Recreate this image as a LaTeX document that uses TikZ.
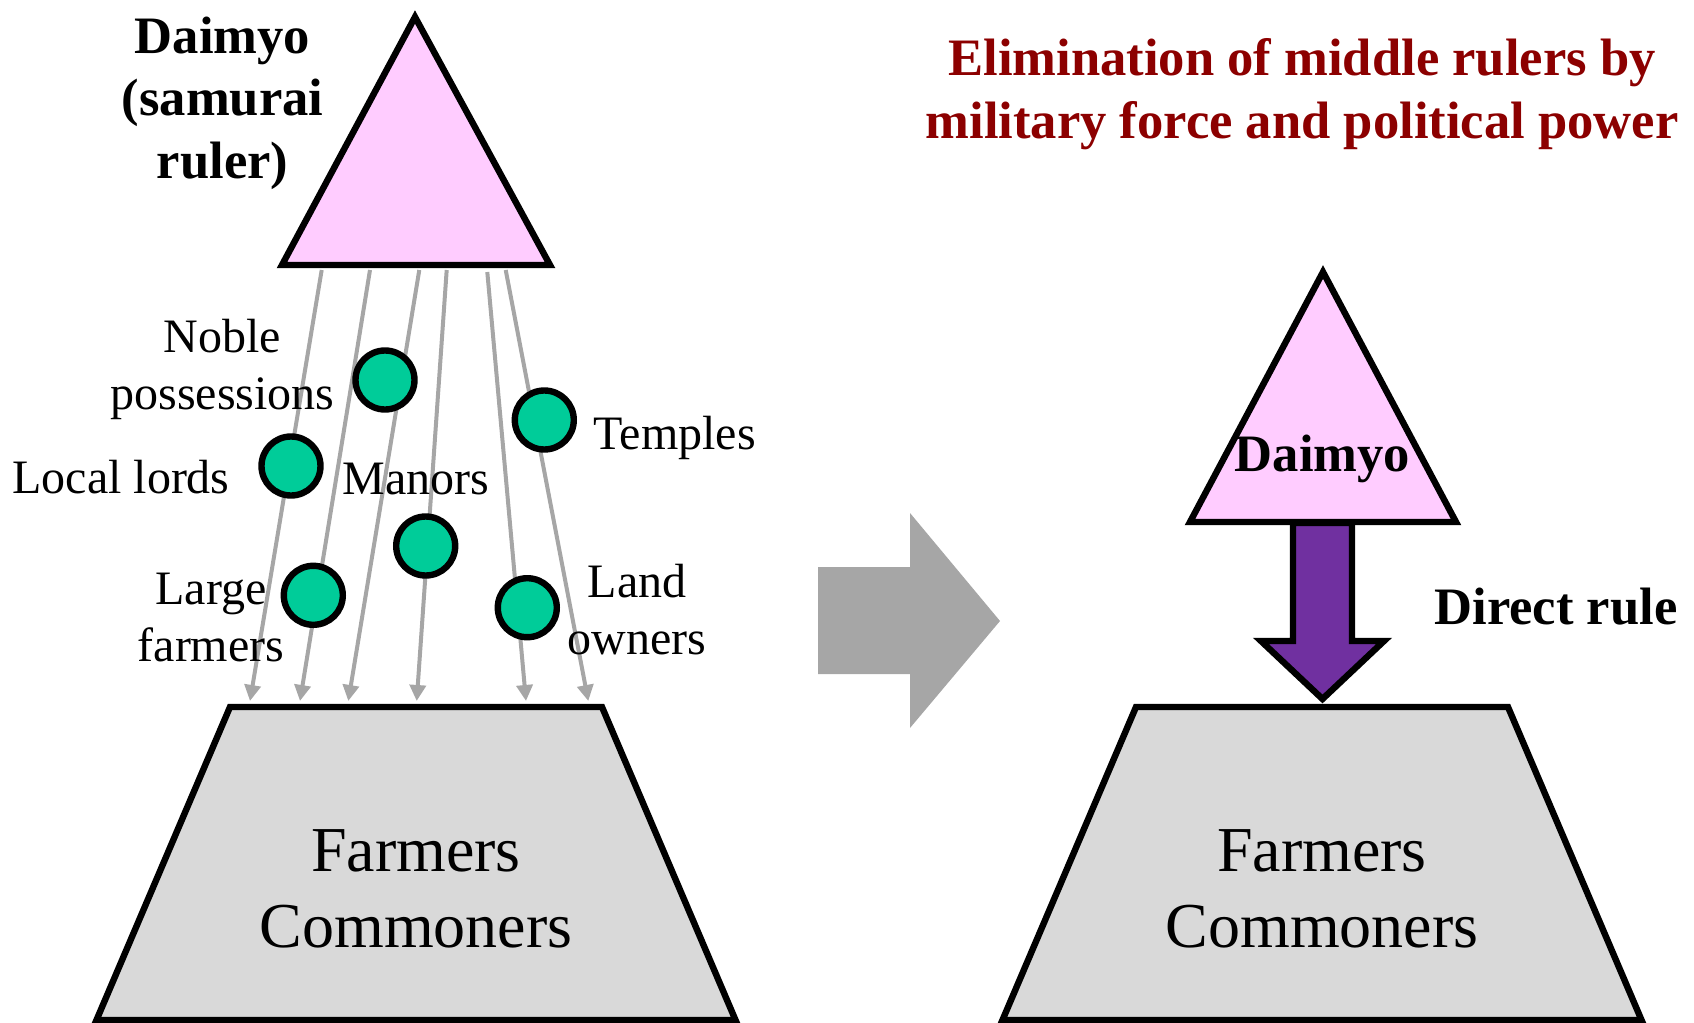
\documentclass[tikz,border=0pt]{standalone}
\usepackage{fontspec}
\setmainfont{Liberation Serif}
\usetikzlibrary{arrows.meta}
\definecolor{pinkfill}{RGB}{255,204,255}
\definecolor{greenfill}{RGB}{0,204,153}
\definecolor{grayfill}{RGB}{217,217,217}
\definecolor{arrowgray}{RGB}{166,166,166}
\definecolor{purplefill}{RGB}{112,48,160}
\definecolor{titlered}{RGB}{140,0,0}
\tikzset{
  outline/.style={draw=black, line width=3.2pt, line join=miter},
  dot/.style={circle, draw=black, line width=3.2pt, fill=greenfill, minimum size=29.5pt, inner sep=0pt},
  lbl/.style={font=\fontsize{24}{28.5}\selectfont, align=center, inner sep=0pt},
  bigtxt/.style={font=\fontsize{32}{37.8}\selectfont, align=center, inner sep=0pt},
  boldtxt/.style={font=\bfseries\fontsize{26.3}{31.3}\selectfont, align=center, inner sep=0pt},
  grayarrow/.style={draw=arrowgray, line width=2pt, -{Triangle[length=8pt,width=8pt]}},
}
\begin{document}
\begin{tikzpicture}[x=0.5pt,y=-0.5pt]
\useasboundingbox (0,0) rectangle (1694,1023);

% ---------- left side ----------
% gray connectors
\coordinate (s1) at (321.7,270); \coordinate (e1) at (250,701);
\coordinate (s2) at (370,270);   \coordinate (e2) at (300,701);
\coordinate (s3) at (419.3,270); \coordinate (e3) at (348.3,701);
\coordinate (s4) at (446.7,270); \coordinate (e4) at (416.7,701);
\coordinate (s5) at (487.3,272); \coordinate (e5) at (526,701);
\coordinate (s6) at (505.7,270); \coordinate (e6) at (588.3,701);
\foreach \i in {1,...,6} { \draw[grayarrow] (s\i) -- (e\i); }

% top triangle
\draw[outline, fill=pinkfill] (415,17) -- (550,265) -- (282,265) -- cycle;

% bottom trapezoid
\draw[outline, fill=grayfill] (230,707) -- (602,707) -- (735.5,1020) -- (96.5,1020) -- cycle;

% circles
\node[dot] (noble)  at (385,380) {};
\node[dot] (local)  at (291,466) {};
\node[dot] (temple) at (544.3,420) {};
\node[dot] (manor)  at (425.7,546) {};
\node[dot] (large)  at (313.3,595.3) {};
\node[dot] (land)   at (527.3,607.7) {};

% labels
\node[boldtxt] (daimyoL) at (222.6,103) {Daimyo\\(samurai\\ruler)};
\node[lbl] (nobleT) at (222.6,369) {Noble\\possessions};
\node[lbl, anchor=base] (localT) at (121,493.5) {Local lords};
\node[lbl, anchor=base] (manorT) at (416,494.5) {Manors};
\node[lbl, anchor=base] (templeT) at (674.7,449) {Temples};
\node[lbl] (largeT) at (211,617.5) {Large\\farmers};
\node[lbl] (landT) at (637,610) {Land\\owners};
\node[bigtxt] (farmL) at (416,889) {Farmers\\Commoners};

% ---------- middle arrow ----------
\fill[arrowgray] (818,567) -- (910,567) -- (910,513) -- (1000,621) -- (910,728) -- (910,674) -- (818,674) -- cycle;

% ---------- right side ----------
\node[boldtxt, text=titlered] (title) at (1302,94) {Elimination of middle rulers by\\military force and political power};

% purple direct-rule arrow
\draw[outline, fill=purplefill] (1293,523) -- (1293,641) -- (1261,641) -- (1322.5,699) -- (1384,641) -- (1352,641) -- (1352,523) -- cycle;

% right triangle
\draw[outline, fill=pinkfill] (1323,272) -- (1456,522) -- (1190,522) -- cycle;
\node[boldtxt, anchor=base] (daimyoR) at (1322.5,471.7) {Daimyo};

% right trapezoid
\draw[outline, fill=grayfill] (1136,707) -- (1508,707) -- (1641.5,1020) -- (1002.5,1020) -- cycle;
\node[bigtxt] (farmR) at (1322,889) {Farmers\\Commoners};

\node[boldtxt, anchor=base] (direct) at (1556,624.5) {Direct rule};
\end{tikzpicture}
\end{document}
